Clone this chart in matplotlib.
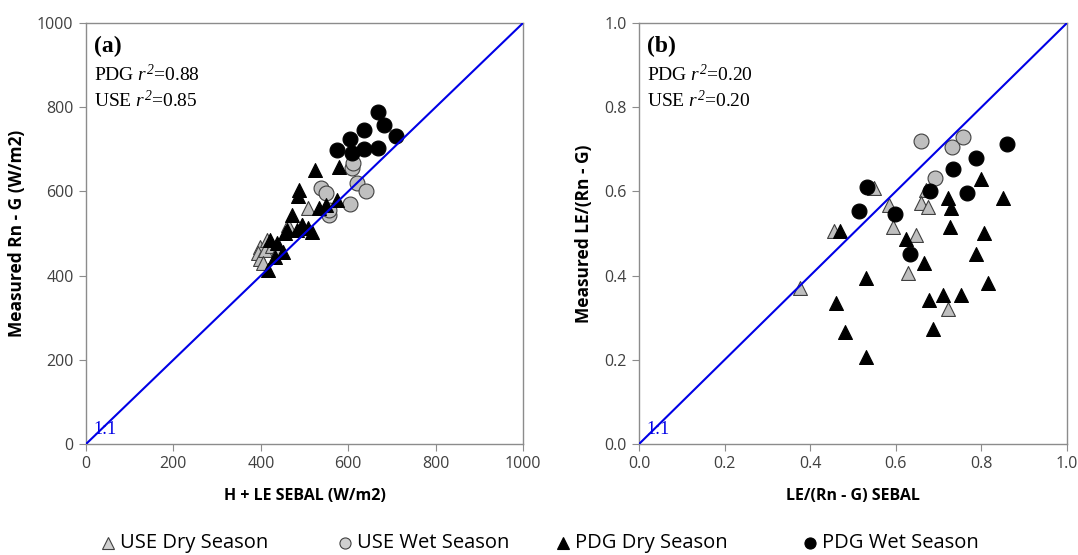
import matplotlib
matplotlib.use("Agg")
import matplotlib.pyplot as plt
from matplotlib.lines import Line2D

plt.rcParams["mathtext.fontset"] = "custom"
plt.rcParams["mathtext.it"] = "Liberation Serif:italic"
plt.rcParams["mathtext.rm"] = "Liberation Serif:italic"

# ---------------- Panel (a) data: Measured Rn-G vs H+LE SEBAL ----------------
a_use_dry_x = [398, 394, 398, 415, 463, 494, 507, 410, 425, 440, 405]
a_use_dry_y = [469, 453, 439, 485, 520, 520, 560, 460, 470, 462, 430]

a_use_wet_x = [537, 549, 555, 556, 603, 608, 612, 619, 641]
a_use_wet_y = [607, 595, 544, 556, 569, 655, 667, 621, 602]

a_pdg_dry_x = [417, 421, 436, 451, 432, 455, 482, 516, 459, 494, 509, 471, 484, 488, 524, 580, 532, 549, 574]
a_pdg_dry_y = [413, 485, 477, 457, 445, 500, 508, 504, 508, 520, 512, 544, 589, 603, 651, 659, 560, 568, 580]

a_pdg_wet_x = [667, 682, 635, 604, 709, 575, 608, 635, 667]
a_pdg_wet_y = [788, 758, 746, 724, 732, 698, 692, 700, 702]

# ---------------- Panel (b) data: Measured LE/(Rn-G) vs SEBAL ----------------
b_use_dry_x = [0.549, 0.670, 0.585, 0.660, 0.676, 0.593, 0.456, 0.647, 0.629, 0.375, 0.721]
b_use_dry_y = [0.607, 0.603, 0.567, 0.572, 0.562, 0.516, 0.507, 0.496, 0.405, 0.371, 0.320]

b_use_wet_x = [0.658, 0.732, 0.758, 0.692]
b_use_wet_y = [0.720, 0.706, 0.730, 0.631]

b_pdg_dry_x = [0.799, 0.851, 0.721, 0.730, 0.727, 0.805, 0.624, 0.470, 0.787, 0.667,
               0.530, 0.816, 0.460, 0.678, 0.710, 0.752, 0.481, 0.686, 0.530]
b_pdg_dry_y = [0.629, 0.585, 0.585, 0.561, 0.516, 0.500, 0.486, 0.507, 0.451, 0.429,
               0.394, 0.383, 0.336, 0.342, 0.354, 0.354, 0.267, 0.273, 0.207]

b_pdg_wet_x = [0.859, 0.787, 0.733, 0.767, 0.681, 0.532, 0.514, 0.598, 0.633]
b_pdg_wet_y = [0.712, 0.679, 0.652, 0.597, 0.602, 0.611, 0.554, 0.546, 0.451]

series_labels = ["USE Dry Season", "USE Wet Season", "PDG Dry Season", "PDG Wet Season"]
a_ticks = [0, 200, 400, 600, 800, 1000]
b_ticks = [0.0, 0.2, 0.4, 0.6, 0.8, 1.0]

GREY = "#bfbfbf"
styles = [
    dict(marker="^", facecolor=GREY, edgecolor="#404040"),
    dict(marker="o", facecolor=GREY, edgecolor="#404040"),
    dict(marker="^", facecolor="black", edgecolor="black"),
    dict(marker="o", facecolor="black", edgecolor="black"),
]

W, H = 1078, 555
fig = plt.figure(figsize=(W / 100, H / 100), dpi=100)
axA = fig.add_axes([0.0798, 0.2, 0.4054, 0.7586])
axB = fig.add_axes([0.5928, 0.2, 0.397, 0.7586])

tick_font = "Open Sans"


def style_axes(ax, ticks, fmt):
    ax.set_xlim(ticks[0], ticks[-1])
    ax.set_ylim(ticks[0], ticks[-1])
    ax.set_xticks(ticks)
    ax.set_yticks(ticks)
    ax.set_xticklabels([fmt(t) for t in ticks])
    ax.set_yticklabels([fmt(t) for t in ticks])
    for s in ax.spines.values():
        s.set_color("#8c8c8c")
        s.set_linewidth(1.0)
    ax.tick_params(direction="out", length=5, color="#8c8c8c", labelcolor="#404040",
                   labelsize=11.5, pad=4)
    for lab in ax.get_xticklabels() + ax.get_yticklabels():
        lab.set_fontfamily(tick_font)


def draw(ax, data, ticks):
    for (xs, ys), st in zip(data, styles):
        sz = 100 if st["marker"] == "^" else 115
        ax.scatter(xs, ys, s=sz, marker=st["marker"], facecolor=st["facecolor"],
                   edgecolor=st["edgecolor"], linewidths=0.8, zorder=3)
    ax.plot([ticks[0], ticks[-1]], [ticks[0], ticks[-1]], color="#0000e6", lw=1.5, zorder=4)


draw(axA, [(a_use_dry_x, a_use_dry_y), (a_use_wet_x, a_use_wet_y),
           (a_pdg_dry_x, a_pdg_dry_y), (a_pdg_wet_x, a_pdg_wet_y)], a_ticks)
draw(axB, [(b_use_dry_x, b_use_dry_y), (b_use_wet_x, b_use_wet_y),
           (b_pdg_dry_x, b_pdg_dry_y), (b_pdg_wet_x, b_pdg_wet_y)], b_ticks)

style_axes(axA, a_ticks, lambda t: f"{t:d}")
style_axes(axB, b_ticks, lambda t: f"{t:.1f}")

xlab_kw = dict(fontsize=11.5, fontweight="bold", fontfamily=tick_font, color="black")
ylab_kw = dict(fontsize=12.5, fontweight="bold", fontfamily=tick_font, color="black")
axA.set_xlabel("H + LE SEBAL (W/m2)", labelpad=11, **xlab_kw)
axA.set_ylabel("Measured Rn - G (W/m2)", labelpad=8, **ylab_kw)
axB.set_xlabel("LE/(Rn - G) SEBAL", labelpad=11, **xlab_kw)
axB.set_ylabel("Measured LE/(Rn - G)", labelpad=8, **ylab_kw)

serif = "Liberation Serif"
for ax, tag, r1, r2 in [(axA, "(a)", "0.88", "0.85"), (axB, "(b)", "0.20", "0.20")]:
    ax.text(0.018, 0.945, tag, transform=ax.transAxes, ha="left", va="center",
            fontsize=17, fontweight="bold", fontfamily=serif)
    ax.text(0.018, 0.877, "PDG $r^{2}$=" + r1, transform=ax.transAxes, ha="left",
            va="center", fontsize=14, fontfamily=serif)
    ax.text(0.018, 0.815, "USE $r^{2}$=" + r2, transform=ax.transAxes, ha="left",
            va="center", fontsize=14, fontfamily=serif)
    ax.text(0.018, 0.035, "1:1", transform=ax.transAxes, ha="left", va="center",
            fontsize=13, fontfamily=serif, color="#0000e6")

# legend entries placed manually along the bottom
leg_x_px = [108, 345, 563, 810]
leg_y = 1 - 543 / H
for st, lab, xp in zip(styles, series_labels, leg_x_px):
    fc = "#d0d0d0" if st["facecolor"] == GREY else st["facecolor"]
    fig.add_artist(Line2D([xp / W], [leg_y], transform=fig.transFigure, linestyle="none",
                          marker=st["marker"], markerfacecolor=fc,
                          markeredgecolor=st["edgecolor"], markersize=8, markeredgewidth=0.8))
    fig.text((xp + 12) / W, leg_y, lab, ha="left", va="center",
             fontsize=14.5, fontfamily=tick_font, color="black")

fig.savefig("out.png", dpi=100)
